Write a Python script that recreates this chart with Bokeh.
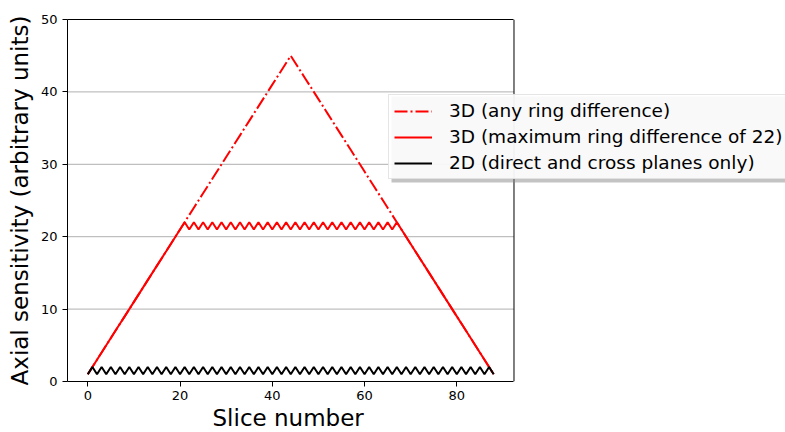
from bokeh.plotting import figure
from bokeh.models import (Range1d, FixedTicker, Legend, LegendItem,
                          BoxAnnotation, LinearAxis, Title)
from bokeh.embed import file_html
from bokeh.resources import INLINE

# ---- data -------------------------------------------------------------
slices = list(range(89))

any_ring = [1, 2, 3, 4, 5, 6, 7, 8, 9, 10, 11, 12, 13, 14, 15, 16, 17, 18,
            19, 20, 21, 22, 23, 24, 25, 26, 27, 28, 29, 30, 31, 32, 33, 34,
            35, 36, 37, 38, 39, 40, 41, 42, 43, 44, 45, 44, 43, 42, 41, 40,
            39, 38, 37, 36, 35, 34, 33, 32, 31, 30, 29, 28, 27, 26, 25, 24,
            23, 22, 21, 20, 19, 18, 17, 16, 15, 14, 13, 12, 11, 10, 9, 8, 7,
            6, 5, 4, 3, 2, 1]

max_ring_22 = [1, 2, 3, 4, 5, 6, 7, 8, 9, 10, 11, 12, 13, 14, 15, 16, 17,
               18, 19, 20, 21, 22,
               21, 22, 21, 22, 21, 22, 21, 22, 21, 22, 21, 22, 21, 22, 21,
               22, 21, 22, 21, 22, 21, 22, 21, 22, 21, 22, 21, 22, 21, 22,
               21, 22, 21, 22, 21, 22, 21, 22, 21, 22, 21, 22, 21, 22, 21,
               22, 21, 20, 19, 18, 17, 16, 15, 14, 13, 12, 11, 10, 9, 8, 7,
               6, 5, 4, 3, 2, 1]

planes_2d = [1, 2, 1, 2, 1, 2, 1, 2, 1, 2, 1, 2, 1, 2, 1, 2, 1, 2, 1, 2, 1,
             2, 1, 2, 1, 2, 1, 2, 1, 2, 1, 2, 1, 2, 1, 2, 1, 2, 1, 2, 1, 2,
             1, 2, 1, 2, 1, 2, 1, 2, 1, 2, 1, 2, 1, 2, 1, 2, 1, 2, 1, 2, 1,
             2, 1, 2, 1, 2, 1, 2, 1, 2, 1, 2, 1, 2, 1, 2, 1, 2, 1, 2, 1, 2,
             1, 2, 1, 2, 1]

x_ticks = [0, 20, 40, 60, 80]
y_ticks = [0, 10, 20, 30, 40, 50]
grid_levels = [10, 20, 30, 40]

series_labels = ["3D (any ring difference)",
                 "3D (maximum ring difference of 22)",
                 "2D (direct and cross planes only)"]

FONT = "DejaVu Sans"

# axes box limits (data units) and the extended frame (legend spills right)
X0, X1 = -4.4, 92.4
Y0, Y1 = 0, 50
X_FRAME_END = X0 + 718 / 4.6125

# ---- figure -----------------------------------------------------------
p = figure(width=785, height=432, output_backend="svg", toolbar_location=None,
           x_range=Range1d(X0, X_FRAME_END), y_range=Range1d(Y0, Y1),
           min_border_left=67, min_border_right=0,
           min_border_top=19, min_border_bottom=51)

p.outline_line_color = None
p.xgrid.visible = False
p.ygrid.visible = False

for ax in (p.xaxis[0], p.yaxis[0]):
    ax.axis_line_color = "black"
    ax.axis_line_width = 1
    ax.major_tick_line_color = "black"
    ax.major_tick_out = 5
    ax.major_tick_in = 0
    ax.minor_tick_line_color = None
    ax.major_label_text_font = FONT
    ax.major_label_text_font_size = "13px"
    ax.major_label_text_color = "black"
    ax.axis_label_text_font = FONT
    ax.axis_label_text_font_size = "23px"
    ax.axis_label_text_font_style = "normal"
    ax.axis_label_text_color = "black"

xa = p.xaxis[0]
xa.ticker = FixedTicker(ticks=x_ticks)
xa.bounds = (X0, X1)
xa.major_label_standoff = 4

ya = p.yaxis[0]
ya.ticker = FixedTicker(ticks=y_ticks)
ya.major_label_standoff = 5
ya.axis_label = "Axial sensitivity (arbitrary units)"
ya.axis_label_standoff = 5

# x-axis title, centred under the axes box (the frame extends further right)
p.add_layout(Title(text="Slice number", align="left", offset=145,
                   text_font=FONT, text_font_size="23px",
                   text_font_style="normal", text_color="black",
                   standoff=0), "below")

# top spine as a bare axis limited to the axes box
top = LinearAxis(ticker=FixedTicker(ticks=[]), bounds=(X0, X1),
                 axis_line_color="black", major_tick_line_color=None,
                 minor_tick_line_color=None)
p.add_layout(top, "above")

# horizontal grid lines, limited to the axes box
p.segment(x0=[X0] * len(grid_levels), x1=[X1] * len(grid_levels),
          y0=grid_levels, y1=grid_levels, line_color="#b0b0b0", line_width=1)
# right spine
p.segment(x0=[X1], x1=[X1], y0=[Y0], y1=[Y1], line_color="black",
          line_width=1)

r1 = p.line(slices, any_ring, line_color="red", line_width=2,
            line_dash="13 3 2 3")
r2 = p.line(slices, max_ring_22, line_color="red", line_width=2)
r3 = p.line(slices, planes_2d, line_color="black", line_width=2)

# legend shadow
p.add_layout(BoxAnnotation(left=324, right=800, bottom=199, top=285,
                           left_units="screen", right_units="screen",
                           bottom_units="screen", top_units="screen",
                           fill_color="#888888", fill_alpha=0.5,
                           line_color=None))

legend = Legend(items=[LegendItem(label=series_labels[0], renderers=[r1]),
                       LegendItem(label=series_labels[1], renderers=[r2]),
                       LegendItem(label=series_labels[2], renderers=[r3])],
                location=(321, 202))
legend.label_text_font = FONT
legend.label_text_font_size = "18.5px"
legend.label_text_color = "black"
legend.glyph_width = 38
legend.glyph_height = 18
legend.label_height = 18
legend.label_standoff = 17
legend.spacing = 5
legend.padding = 5
legend.margin = 0
legend.border_line_color = "#cccccc"
legend.border_line_width = 1
legend.background_fill_color = "white"
legend.background_fill_alpha = 0.9
p.add_layout(legend)

open("out.html", "w").write(file_html(p, INLINE))
